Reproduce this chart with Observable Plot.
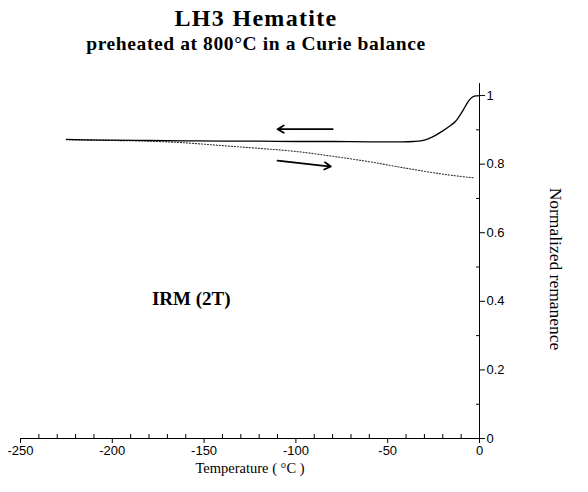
<!DOCTYPE html>
<html>
<head>
<meta charset="utf-8">
<script src="https://cdn.jsdelivr.net/npm/d3@7"></script>
<script src="https://cdn.jsdelivr.net/npm/@observablehq/plot@0.6"></script>
<style>
  body { margin: 0; background: #fff; }
  #wrap { position: relative; width: 588px; height: 492px; }
  .title { position: absolute; left: 0; width: 512px; text-align: center; font-family: "Liberation Serif", "Times New Roman", serif; font-weight: bold; color: #000; white-space: nowrap; }
  #t1 { top: 5px; font-size: 24px; line-height: 27px; letter-spacing: 1.3px; }
  #t2 { top: 33px; font-size: 19.5px; line-height: 22px; letter-spacing: 0.6px; }
  #chart { position: absolute; left: 0; top: 62px; }
</style>
</head>
<body>
<div id="wrap">
  <div class="title" id="t1">LH3 Hematite</div>
  <div class="title" id="t2">preheated at 800°C in a Curie balance</div>
  <div id="chart"></div>
</div>
<script>
// Solid curve (cooling, arrow pointing left)
const coolTemp = [0, -2, -4, -6, -8, -10, -13, -16, -20, -24, -28, -32, -36, -42, -50, -60, -80, -100, -120, -140, -160, -180, -200, -215, -225];
const coolRem  = [1.0, 0.999, 0.995, 0.984, 0.966, 0.948, 0.925, 0.912, 0.897, 0.884, 0.874, 0.868, 0.866, 0.865, 0.865, 0.865, 0.866, 0.866, 0.867, 0.867, 0.868, 0.869, 0.870, 0.871, 0.872];

// Dotted curve (warming, arrow pointing right)
const warmTemp = [-225, -200, -180, -160, -140, -120, -100, -80, -60, -40, -20, -10, -3];
const warmRem  = [0.871, 0.869, 0.867, 0.862, 0.854, 0.846, 0.837, 0.823, 0.807, 0.788, 0.771, 0.764, 0.760];

// Direction arrows
const arrowT1 = [-80, -110];
const arrowR1 = [0.902, 0.810];
const arrowT2 = [-110, -81];
const arrowR2 = [0.902, 0.793];

// Annotation
const noteText = ["IRM (2T)"];
const noteT = [-157];
const noteR = [0.408];

// Ticks
const xMajor = [-250, -200, -150, -100, -50, 0];
const xMinor = d3.range(-240, 0, 10).filter(v => v % 50 !== 0);
const yMajor = [0, 0.2, 0.4, 0.6, 0.8, 1];
const yMinor = [0.1, 0.3, 0.5, 0.7, 0.9];

const xLabel = "Temperature ( °C )";
const yLabel = "Normalized remanence";

const cool = coolTemp.map((t, i) => ({t, r: coolRem[i]}));
const warm = warmTemp.map((t, i) => ({t, r: warmRem[i]}));
const arrows = arrowT1.map((t, i) => ({t1: t, r1: arrowR1[i], t2: arrowT2[i], r2: arrowR2[i]}));
const notes = noteText.map((s, i) => ({s, t: noteT[i], r: noteR[i]}));

const sans = "'Liberation Sans', Arial, sans-serif";
const serif = "'Liberation Serif', 'Times New Roman', serif";

const plot = Plot.plot({
  width: 588,
  height: 430,
  marginLeft: 20,
  marginRight: 109,
  marginTop: 19,
  marginBottom: 54,
  style: {fontFamily: sans, fontSize: "13px", background: "#fff", color: "#000"},
  x: {domain: [-250, 0]},
  y: {domain: [0, 1.041]},
  marks: [
    Plot.ruleY([0], {x1: -250, x2: 0, stroke: "#000", strokeWidth: 1}),
    Plot.ruleX([0], {y1: 0, y2: 1.035, stroke: "#000", strokeWidth: 1}),
    Plot.axisX({ticks: xMajor, tickSize: 5, tickPadding: 2, tickFormat: d => String(d), label: null, fontSize: 13}),
    Plot.axisX({ticks: xMinor, tickSize: 4, dy: -4, tickFormat: () => "", label: null}),
    Plot.axisY({anchor: "right", ticks: yMajor, tickSize: 5, tickPadding: 2, tickFormat: d => String(d), label: null, fontSize: 13}),
    Plot.axisY({anchor: "right", ticks: yMinor, tickSize: 4, dx: -4, tickFormat: () => "", label: null}),
    Plot.line(warm, {x: "t", y: "r", stroke: "#333", strokeWidth: 1.1, strokeDasharray: "1.2,1.8", curve: "monotone-x"}),
    Plot.line(cool, {x: "t", y: "r", stroke: "#000", strokeWidth: 1.3, curve: "monotone-x"}),
    Plot.arrow(arrows, {x1: "t1", y1: "r1", x2: "t2", y2: "r2", stroke: "#000", strokeWidth: 1.8, headLength: 6}),
    Plot.text(notes, {x: "t", y: "r", text: "s", fontFamily: serif, fontWeight: "bold", fontSize: 19, fill: "#000"}),
    Plot.text([xLabel], {frameAnchor: "bottom", lineAnchor: "middle", textAnchor: "middle", dy: 30, fontFamily: serif, fontSize: 14.5, fill: "#000"}),
    Plot.text([yLabel], {frameAnchor: "right", textAnchor: "middle", lineAnchor: "middle", dx: 76, dy: 9, rotate: 90, fontFamily: serif, fontSize: 17.5, fill: "#000"})
  ]
});
document.getElementById("chart").appendChild(plot);
</script>
</body>
</html>
